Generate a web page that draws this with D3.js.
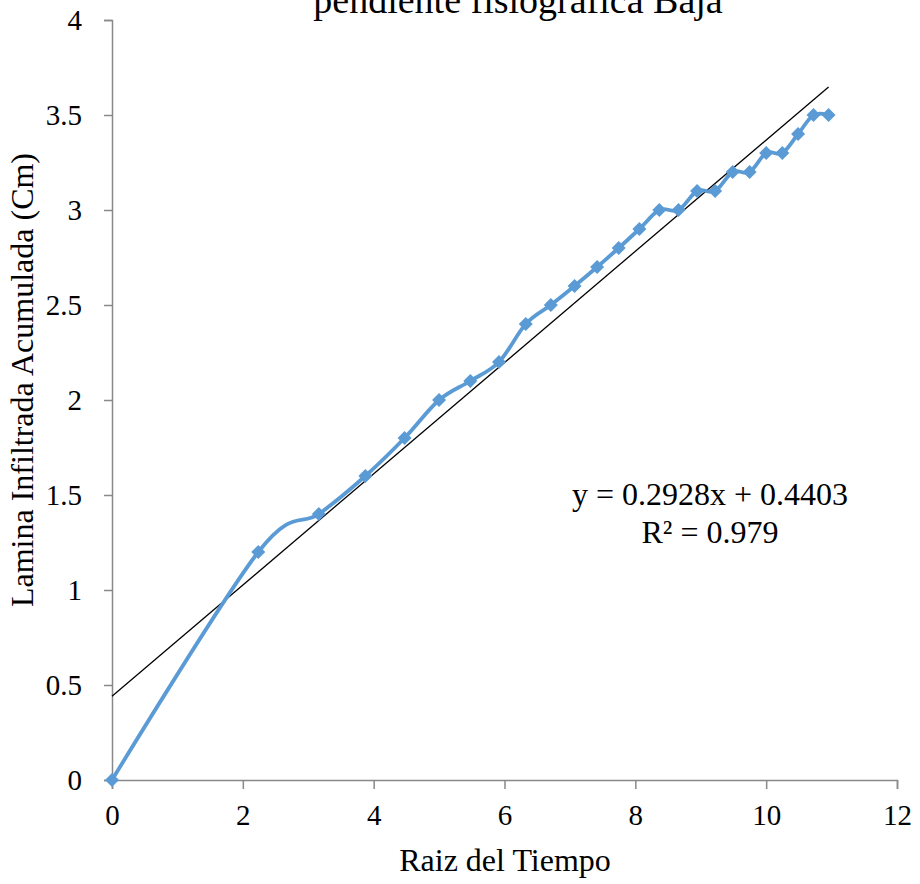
<!DOCTYPE html>
<html>
<head>
<meta charset="utf-8">
<script src="https://d3js.org/d3.v7.min.js"></script>
<style>
  body { margin: 0; background: #fff; }
  svg text, svg .tick text { font-family: "Liberation Serif", "Times New Roman", serif; fill: #000; }
</style>
</head>
<body>
<div id="chart"></div>
<script>
// raiz del tiempo (x) y lamina acumulada (y)
const raizTiempo = [0, 2.236, 3.162, 3.873, 4.472, 5, 5.477, 5.916, 6.325, 6.708, 7.071, 7.416,
                    7.746, 8.062, 8.367, 8.660, 8.944, 9.220, 9.487, 9.747, 10, 10.247, 10.488, 10.724, 10.954];
const lamina = [0, 1.2, 1.4, 1.6, 1.8, 2.0, 2.1, 2.2, 2.4, 2.5, 2.6, 2.7,
                2.8, 2.9, 3.0, 3.0, 3.1, 3.1, 3.2, 3.2, 3.3, 3.3, 3.4, 3.5, 3.5];
const xTicks = [0, 2, 4, 6, 8, 10, 12];
const yTicks = [0, 0.5, 1, 1.5, 2, 2.5, 3, 3.5, 4];
const trend = { m: 0.2928, b: 0.4403, r2: 0.979 };
const titulo = "pendiente fisiografica Baja";

const width = 920, height = 884;
const margin = { top: 20, right: 23, bottom: 104, left: 112 };
const axisColor = "#898989", serieColor = "#5B9BD5";

const svg = d3.select("#chart").append("svg")
    .attr("width", width)
    .attr("height", height);

const x = d3.scaleLinear().domain([0, 12]).range([margin.left, width - margin.right]);
const y = d3.scaleLinear().domain([0, 4]).range([height - margin.bottom, margin.top]);

const data = raizTiempo.map(function (d, i) { return { x: d, y: lamina[i] }; });

// ejes
const xAxis = svg.append("g")
    .attr("transform", "translate(0," + y(0) + ")")
    .call(d3.axisBottom(x).tickValues(xTicks).tickSize(9).tickPadding(10).tickFormat(d3.format("d")));
const yAxis = svg.append("g")
    .attr("transform", "translate(" + x(0) + ",0)")
    .call(d3.axisLeft(y).tickValues(yTicks).tickSize(8).tickPadding(22).tickFormat(function (d) { return String(d); }));

[xAxis, yAxis].forEach(function (ax) {
    ax.attr("font-family", null).attr("font-size", null);
    ax.select(".domain").attr("stroke", axisColor).attr("stroke-width", 1.5);
    ax.selectAll(".tick line").attr("stroke", axisColor).attr("stroke-width", 1.5);
    ax.selectAll(".tick text")
        .style("font-size", "29px")
        .attr("fill", "#000");
});
yAxis.selectAll(".tick text").attr("dy", "0.34em");
xAxis.selectAll(".tick text").attr("dy", "0.9em");

// linea de tendencia
const xMax = d3.max(raizTiempo);
svg.append("line")
    .attr("x1", x(0)).attr("y1", y(trend.b))
    .attr("x2", x(xMax)).attr("y2", y(trend.m * xMax + trend.b))
    .attr("stroke", "#000")
    .attr("stroke-width", 1.3);

// serie suavizada
const line = d3.line()
    .x(function (d) { return x(d.x); })
    .y(function (d) { return y(d.y); })
    .curve(d3.curveCatmullRom.alpha(0));

svg.append("path")
    .datum(data)
    .attr("d", line)
    .attr("fill", "none")
    .attr("stroke", serieColor)
    .attr("stroke-width", 3.8)
    .attr("stroke-linejoin", "round");

svg.append("g").selectAll("path")
    .data(data)
    .enter()
    .append("path")
    .attr("transform", function (d) { return "translate(" + x(d.x) + "," + y(d.y) + ")"; })
    .attr("d", "M0,-7L7,0L0,7L-7,0Z")
    .attr("fill", serieColor);

// textos
svg.append("text")
    .attr("x", 518).attr("y", 13)
    .attr("text-anchor", "middle")
    .style("font-size", "38px")
    .text(titulo);

svg.append("text")
    .attr("x", 710).attr("y", 505)
    .attr("text-anchor", "middle")
    .style("font-size", "32px")
    .text("y = " + trend.m + "x + " + trend.b);

svg.append("text")
    .attr("x", 710).attr("y", 543)
    .attr("text-anchor", "middle")
    .style("font-size", "32px")
    .text("R\u00b2 = " + trend.r2);

svg.append("text")
    .attr("x", 505).attr("y", 871)
    .attr("text-anchor", "middle")
    .style("font-size", "32px")
    .text("Raiz del Tiempo");

svg.append("text")
    .attr("transform", "translate(33,380) rotate(-90)")
    .attr("text-anchor", "middle")
    .style("font-size", "32px")
    .text("Lamina Infiltrada Acumulada (Cm)");
</script>
</body>
</html>
